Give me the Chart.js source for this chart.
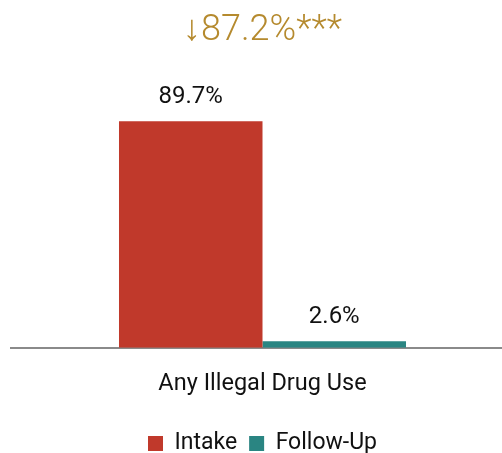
<!DOCTYPE html>
<html>
<head>
<meta charset="utf-8">
<script src="https://cdn.jsdelivr.net/npm/chart.js@4/dist/chart.umd.min.js"></script>
<style>
  html, body { margin: 0; padding: 0; background: #fff; overflow: hidden; }
  #wrap { width: 502px; height: 453px; overflow: hidden; }
</style>
</head>
<body>
<div id="wrap"><canvas id="chart" width="514" height="453"></canvas></div>
<script>
const categories = ["Any Illegal Drug Use"];
const seriesNames = ["Intake", "Follow-Up"];
const intakeValues = [89.7];
const followUpValues = [2.6];
const seriesColors = ["#C0392B", "#2A8582"];
const changeLabel = "\u219387.2%***";

// Draws "xx.x%" above each bar
const barLabels = {
  id: "barLabels",
  afterDatasetsDraw(chart) {
    const ctx = chart.ctx;
    ctx.save();
    ctx.font = "24px Roboto";
    ctx.fillStyle = "#111";
    ctx.textAlign = "center";
    ctx.textBaseline = "alphabetic";
    chart.data.datasets.forEach((ds, i) => {
      chart.getDatasetMeta(i).data.forEach((bar, j) => {
        ctx.fillText(ds.data[j].toFixed(1) + "%", bar.x, bar.y - 18);
      });
    });
    ctx.restore();
  }
};

new Chart(document.getElementById("chart"), {
  type: "bar",
  data: {
    labels: categories,
    datasets: [
      { label: seriesNames[0], data: intakeValues, backgroundColor: seriesColors[0] },
      { label: seriesNames[1], data: followUpValues, backgroundColor: seriesColors[1] }
    ]
  },
  options: {
    responsive: false,
    animation: false,
    layout: { padding: { left: 11, right: 0, top: 0, bottom: -12 } },
    categoryPercentage: 0.5706,
    barPercentage: 1,
    scales: {
      x: {
        grid: { display: false, drawTicks: false },
        border: { display: true, color: "#8a8a8a", width: 2 },
        ticks: { color: "#111", font: { family: "Roboto", size: 23.5 }, padding: 22 }
      },
      y: {
        display: false,
        min: 0,
        max: 100
      }
    },
    plugins: {
      title: {
        display: true,
        text: changeLabel,
        color: "#B58A2E",
        font: { family: "Roboto", size: 36, weight: "300" },
        padding: { top: 9, bottom: 43 }
      },
      legend: {
        position: "bottom",
        labels: {
          color: "#111",
          font: { family: "Roboto", size: 23 },
          boxWidth: 15,
          boxHeight: 15,
          padding: 12
        }
      },
      tooltip: { enabled: false }
    }
  },
  plugins: [barLabels]
});
</script>
</body>
</html>
